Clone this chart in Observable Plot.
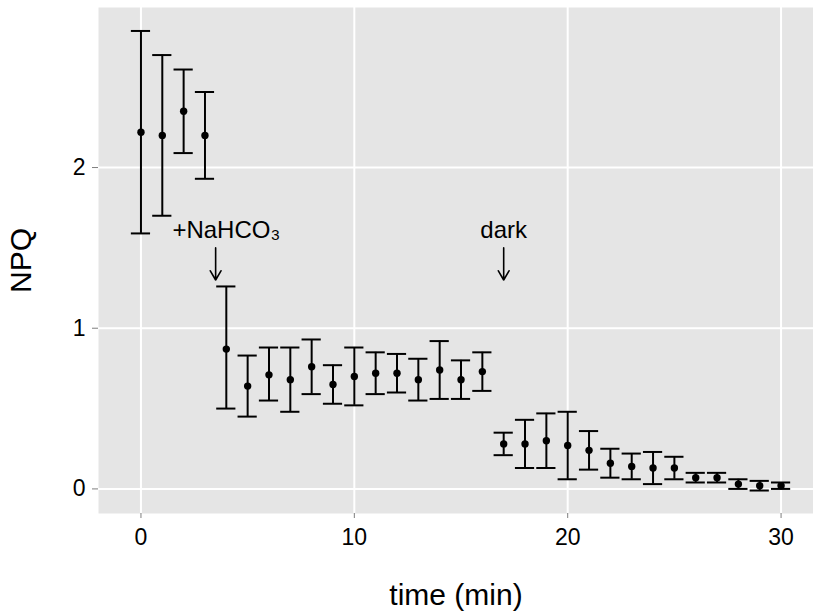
<!DOCTYPE html>
<html>
<head>
<meta charset="utf-8">
<script src="https://cdn.jsdelivr.net/npm/d3@7"></script>
<script src="https://cdn.jsdelivr.net/npm/@observablehq/plot@0.6"></script>
<style>
  html, body { margin: 0; padding: 0; background: #fff; }
  #chart svg { display: block; }
</style>
</head>
<body>
<div id="chart"></div>
<script>
// ---- data ----
const time  = [0,1,2,3,4,5,6,7,8,9,10,11,12,13,14,15,16,17,18,19,20,21,22,23,24,25,26,27,28,29,30];
const npq   = [2.22,2.20,2.35,2.20,0.87,0.64,0.71,0.68,0.76,0.65,0.70,0.72,0.72,0.68,0.74,0.68,0.73,0.28,0.28,0.30,0.27,0.24,0.16,0.14,0.13,0.13,0.07,0.07,0.03,0.02,0.02];
const upper = [2.85,2.70,2.61,2.47,1.26,0.83,0.88,0.88,0.93,0.77,0.88,0.85,0.84,0.81,0.92,0.80,0.85,0.35,0.43,0.47,0.48,0.36,0.25,0.22,0.23,0.20,0.10,0.10,0.06,0.05,0.04];
const lower = [1.59,1.70,2.09,1.93,0.50,0.45,0.55,0.48,0.59,0.53,0.52,0.59,0.60,0.55,0.56,0.56,0.61,0.21,0.13,0.13,0.06,0.12,0.07,0.06,0.03,0.06,0.04,0.04,0.00,-0.01,0.00];
const xTicks = [0, 10, 20, 30];
const yTicks = [0, 1, 2];
const annoLabels = ["+NaHCO\u2083", "dark"];
const annoTextX  = [4, 17];
const annoTextY  = [1.61, 1.61];
const arrowX     = [3.5, 17];
const arrowY1    = [1.5, 1.5];
const arrowY2    = [1.3, 1.3];
const xTitle = "time (min)";
const yTitle = "NPQ";

const rows = time.map((t, i) => ({t, v: npq[i], lo: lower[i], hi: upper[i]}));
const anno = annoLabels.map((s, i) => ({s, x: annoTextX[i], y: annoTextY[i]}));
const arrows = arrowX.map((x, i) => ({x, y1: arrowY1[i], y2: arrowY2[i]}));
const capHalf = 0.45;
const font = "'Liberation Sans', Arial, Helvetica, sans-serif";

const chart = Plot.plot({
  width: 813,
  height: 613,
  marginLeft: 98,
  marginRight: 0,
  marginTop: 7,
  marginBottom: 100,
  style: {fontFamily: font, background: "white"},
  x: {domain: [-1.99, 31.52], label: null},
  y: {domain: [-0.153, 2.996], label: null},
  marks: [
    Plot.frame({fill: "#E5E5E5", stroke: "none"}),
    Plot.gridX(xTicks, {stroke: "white", strokeOpacity: 1, strokeWidth: 2}),
    Plot.gridY(yTicks, {stroke: "white", strokeOpacity: 1, strokeWidth: 2}),
    Plot.axisX({ticks: xTicks, tickSize: 5, tickPadding: 10, stroke: "#7f7f7f", fill: "black", fontSize: 23, label: null, tickFormat: d => String(d)}),
    Plot.axisY({ticks: yTicks, tickSize: 6, tickPadding: 7, stroke: "#7f7f7f", fill: "black", fontSize: 23, label: null, tickFormat: d => String(d)}),
    Plot.ruleX(rows, {x: "t", y1: "lo", y2: "hi", stroke: "black", strokeWidth: 2}),
    Plot.ruleY(rows, {y: "hi", x1: d => d.t - capHalf, x2: d => d.t + capHalf, stroke: "black", strokeWidth: 2}),
    Plot.ruleY(rows, {y: "lo", x1: d => d.t - capHalf, x2: d => d.t + capHalf, stroke: "black", strokeWidth: 2}),
    Plot.dot(rows, {x: "t", y: "v", r: 3.7, fill: "black", stroke: "none"}),
    Plot.arrow(arrows, {x1: "x", x2: "x", y1: "y1", y2: "y2", stroke: "black", strokeWidth: 1.6, headLength: 10, bend: 0}),
    Plot.text(anno, {x: "x", y: "y", text: "s", fontSize: 24, fill: "black", textAnchor: "middle"}),
    Plot.text([xTitle], {frameAnchor: "bottom", dy: 91, text: d => d, fontSize: 30, fill: "black", textAnchor: "middle"}),
    Plot.text([yTitle], {frameAnchor: "left", dx: -77, rotate: -90, text: d => d, fontSize: 30, fill: "black", textAnchor: "middle", lineAnchor: "middle"})
  ]
});
document.getElementById("chart").appendChild(chart);
</script>
</body>
</html>
